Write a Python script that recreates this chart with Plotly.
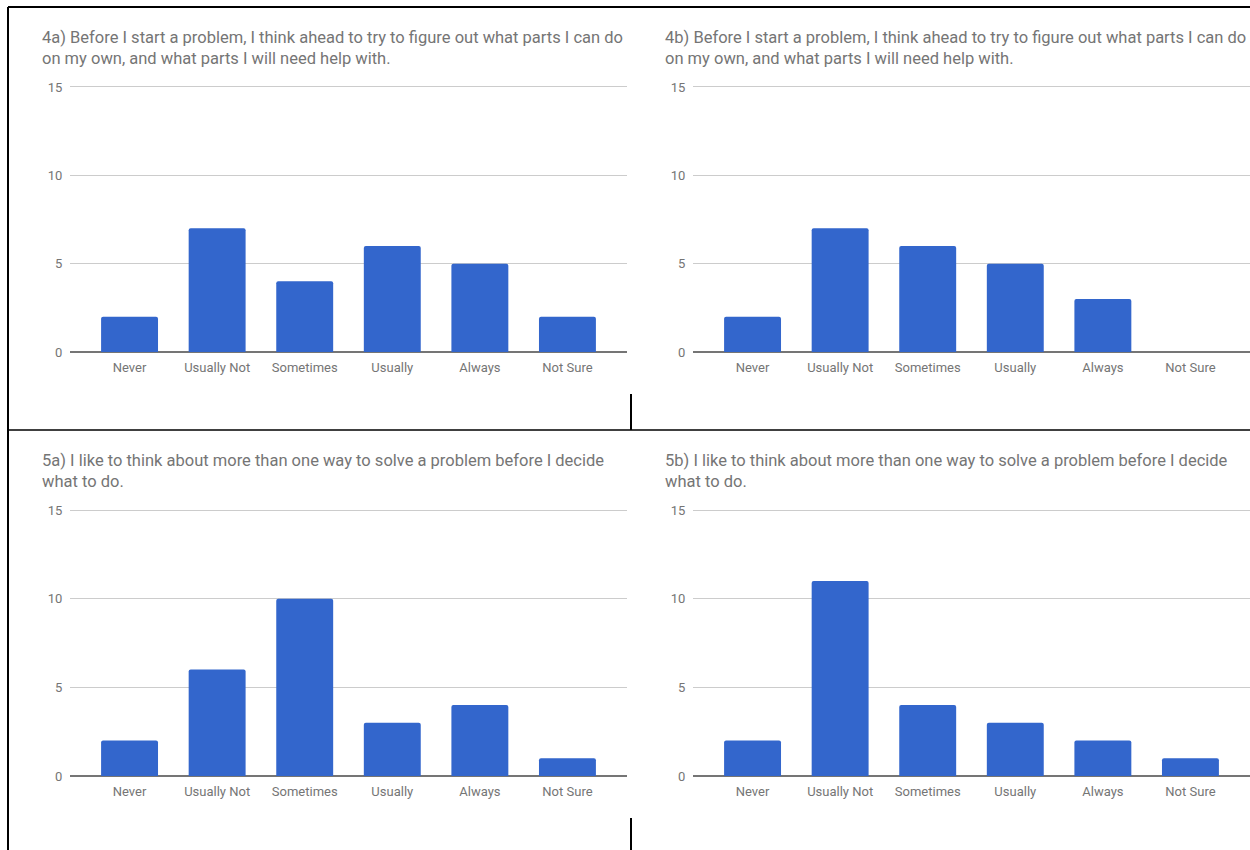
import plotly.graph_objects as go

W, H = 1250, 850

categories = ["Never", "Usually Not", "Sometimes", "Usually", "Always", "Not Sure"]
values_4a = [2, 7, 4, 6, 5, 2]
values_4b = [2, 7, 6, 5, 3, 0]
values_5a = [2, 6, 10, 3, 4, 1]
values_5b = [2, 11, 4, 3, 2, 1]
titles = [
    "4a) Before I start a problem, I think ahead to try to figure out what parts I can do<br>on my own, and what parts I will need help with.",
    "4b) Before I start a problem, I think ahead to try to figure out what parts I can do<br>on my own, and what parts I will need help with.",
    "5a) I like to think about more than one way to solve a problem before I decide<br>what to do.",
    "5b) I like to think about more than one way to solve a problem before I decide<br>what to do.",
]
y_ticks = [0, 5, 10, 15]

BAR = "#3366cc"
TXT = "#757575"
FONT = "Roboto"
Y_MAX = 15.2

def px_x(p):
    return p / W

def px_y(p):
    return 1 - p / H

# panels: (x_left, x_right, y at 15, y at 0) in pixels, title origin
panels = [
    (70, 627, 87, 352, 40, 26),
    (693, 1250, 87, 352, 663, 26),
    (70, 627, 510, 776, 40, 449),
    (693, 1250, 510, 776, 663, 449),
]
series = [values_4a, values_4b, values_5a, values_5b]

fig = go.Figure()
annotations = []
for i, (vals, (xl, xr, y15, y0, tx, ty)) in enumerate(zip(series, panels)):
    n = "" if i == 0 else str(i + 1)
    top = y0 - (y0 - y15) * Y_MAX / 15
    fig.add_trace(go.Bar(
        x=categories, y=vals, marker=dict(color=BAR, cornerradius=2, line=dict(width=0)),
        width=0.65, xaxis="x" + n, yaxis="y" + n, showlegend=False, hoverinfo="x+y",
    ))
    fig.layout["xaxis" + n] = dict(
        domain=[px_x(xl), min(px_x(xr), 1)], anchor="y" + n,
        range=[-0.68, 5.68], showgrid=False, zeroline=False, showline=False,
        ticks="outside", ticklen=3, tickcolor="rgba(0,0,0,0)",
        tickfont=dict(family=FONT, size=13, color=TXT), fixedrange=True,
    )
    fig.layout["yaxis" + n] = dict(
        domain=[px_y(y0), px_y(top)], anchor="x" + n, range=[0, Y_MAX],
        tickvals=y_ticks, showgrid=True, gridcolor="#cccccc", gridwidth=1,
        zeroline=True, zerolinecolor="#757575", zerolinewidth=1.5, showline=False,
        ticks="outside", ticklen=4, tickcolor="rgba(0,0,0,0)",
        tickfont=dict(family=FONT, size=13, color=TXT), fixedrange=True,
    )
    annotations.append(dict(
        text=titles[i], x=px_x(tx), y=px_y(ty), xref="paper", yref="paper",
        xanchor="left", yanchor="top", align="left", showarrow=False,
        font=dict(family=FONT, size=16.5, color=TXT),
    ))

# black frame lines from the screenshot
lines = [
    (8, 7, 1250, 7, 2),
    (8, 7, 8, 850, 2),
    (8, 430, 1250, 430, 1.5),
    (631, 394, 631, 430, 2),
    (631, 818, 631, 850, 2),
]
shapes = [dict(type="line", xref="paper", yref="paper",
               x0=px_x(a), y0=px_y(b), x1=px_x(c), y1=px_y(d),
               line=dict(color="black", width=w)) for a, b, c, d, w in lines]

fig.update_layout(
    width=W, height=H, margin=dict(l=0, r=0, t=0, b=0, pad=0, autoexpand=False),
    paper_bgcolor="white", plot_bgcolor="white",
    annotations=annotations, shapes=shapes, bargap=0.35,
    font=dict(family=FONT),
)
fig.write_html("out.html", config={"displayModeBar": False})
